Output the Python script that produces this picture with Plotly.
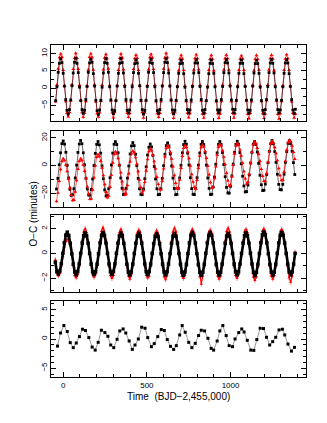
import plotly.graph_objects as go
from plotly.subplots import make_subplots

# ---- panel 1 ----
t1 = [
    -45, -37.5, -30, -22.5, -15, -7.5, 0, 7.5, 15, 22.5, 30, 37.5,
    45, 52.5, 60, 67.5, 75, 82.5, 90, 97.5, 105, 112.5, 120, 127.5,
    135, 142.5, 150, 157.5, 165, 172.5, 180, 187.5, 195, 202.5, 210, 217.5,
    225, 232.5, 240, 247.5, 255, 262.5, 270, 277.5, 285, 292.5, 300, 307.5,
    315, 322.5, 330, 337.5, 345, 352.5, 360, 367.5, 375, 382.5, 390, 397.5,
    405, 412.5, 420, 427.5, 435, 442.5, 450, 457.5, 465, 472.5, 480, 487.5,
    495, 502.5, 510, 517.5, 525, 532.5, 540, 547.5, 555, 562.5, 570, 577.5,
    585, 592.5, 600, 607.5, 615, 622.5, 630, 637.5, 645, 652.5, 660, 667.5,
    675, 682.5, 690, 697.5, 705, 712.5, 720, 727.5, 735, 742.5, 750, 757.5,
    765, 772.5, 780, 787.5, 795, 802.5, 810, 817.5, 825, 832.5, 840, 847.5,
    855, 862.5, 870, 877.5, 885, 892.5, 900, 907.5, 915, 922.5, 930, 937.5,
    945, 952.5, 960, 967.5, 975, 982.5, 990, 997.5, 1005, 1012.5, 1020, 1027.5,
    1035, 1042.5, 1050, 1057.5, 1065, 1072.5, 1080, 1087.5, 1095, 1102.5, 1110, 1117.5,
    1125, 1132.5, 1140, 1147.5, 1155, 1162.5, 1170, 1177.5, 1185, 1192.5, 1200, 1207.5,
    1215, 1222.5, 1230, 1237.5, 1245, 1252.5, 1260, 1267.5, 1275, 1282.5, 1290, 1297.5,
    1305, 1312.5, 1320, 1327.5, 1335, 1342.5, 1350, 1357.5, 1365, 1372.5, 1380, 1387.5,
]
black1 = [
    -3.6, 0.4, 4.6, 7.2, 8.5, 7.4, 4.3, 0.6, -3.3, -6.4, -7.5, -6.2,
    -3.4, 0.7, 4.4, 7.5, 8.7, 7.2, 4.5, 0.3, -3.6, -6.2, -7.3, -6.4,
    -3.3, 0.5, 4.6, 7.3, 8.4, 7.5, 4.2, 0.6, -3.5, -6.5, -7.6, -6.3,
    -3.5, 0.3, 4.4, 7.4, 8.6, 7.2, 4.6, 0.4, -3.4, -6.3, -7.4, -6.5,
    -3.6, 0.6, 4.3, 7.2, 8.6, 7.4, 4.4, 0.5, -3.3, -6.4, -7.2, -6.3,
    -3.4, 0.4, 4.5, 7.1, 8.2, 7.3, 4.3, 0.7, -3.5, -6.2, -7.5, -6.4,
    -3.5, 0.5, 4.6, 7.4, 8.4, 7.2, 4.5, 0.4, -3.6, -6.5, -7.3, -6.2,
    -3.3, 0.6, 4.5, 7.5, 8.6, 7.4, 4.4, 0.6, -3.4, -6.3, -7.4, -6.4,
    -3.5, 0.4, 4.3, 7.1, 8.1, 7.2, 4.2, 0.3, -3.5, -6.2, -7.2, -6.3,
    -3.4, 0.5, 4.4, 7.3, 8.3, 7.3, 4.5, 0.5, -3.3, -6.4, -7.3, -6.2,
    -3.6, 0.3, 4.2, 7.2, 8.2, 7.1, 4.3, 0.4, -3.6, -6.3, -7.1, -6.3,
    -3.3, 0.5, 4.5, 7.4, 8.3, 7.3, 4.4, 0.6, -3.4, -6.1, -7.2, -6.2,
    -3.5, 0.4, 4.3, 7.2, 8.2, 7.2, 4.2, 0.5, -3.5, -6.3, -7.3, -6.4,
    -3.4, 0.6, 4.4, 7.1, 8.1, 7.1, 4.3, 0.3, -3.6, -6.4, -7.4, -6.2,
    -3.3, 0.5, 4.5, 7.3, 8.3, 7.2, 4.4, 0.4, -3.4, -6.2, -7.2, -6.3,
    -3.5, 0.4, 4.3, 7.3, 8.3, 7.3, 4.2, 0.5, -3.3, -6.3, -7.3, -6.1,
]
red1 = [
    -3.9, 0.9, 5.6, 8.9, 9.9, 9.0, 5.2, 0.7, -3.8, -7.2, -8.2, -7.0,
    -3.6, 1.0, 5.5, 8.7, 10.1, 8.7, 5.5, 0.9, -3.5, -7.0, -8.4, -7.2,
    -3.8, 0.7, 5.3, 9.0, 10.0, 8.9, 5.3, 1.0, -3.9, -7.3, -8.3, -7.1,
    -3.7, 0.9, 5.4, 8.8, 9.8, 8.6, 5.6, 0.8, -3.6, -7.1, -8.5, -7.0,
    -3.5, 0.8, 5.2, 8.7, 9.9, 8.8, 5.4, 0.9, -3.8, -7.2, -8.4, -7.3,
    -3.9, 1.0, 5.5, 8.6, 9.6, 8.7, 5.2, 0.7, -3.7, -7.0, -8.6, -7.1,
    -3.6, 0.8, 5.4, 8.9, 9.8, 8.8, 5.5, 0.9, -3.9, -7.3, -8.4, -7.2,
    -3.8, 0.9, 5.6, 8.8, 10.1, 8.9, 5.3, 0.8, -3.6, -7.1, -8.7, -7.0,
    -3.7, 0.7, 5.1, 8.5, 9.5, 8.5, 5.2, 0.6, -3.8, -7.2, -8.5, -7.3,
    -3.9, 0.8, 5.3, 8.6, 9.7, 8.6, 5.4, 0.8, -3.7, -7.4, -8.6, -7.2,
    -3.6, 0.6, 5.2, 8.4, 9.5, 8.4, 5.1, 0.7, -3.9, -7.3, -8.7, -7.4,
    -3.8, 0.9, 5.3, 8.6, 9.6, 8.6, 5.3, 0.9, -3.8, -7.2, -8.6, -7.3,
    -3.7, 0.7, 5.2, 8.5, 9.4, 8.5, 5.2, 0.6, -3.6, -7.4, -8.8, -7.2,
    -3.9, 0.8, 5.1, 8.4, 9.5, 8.4, 5.3, 0.7, -3.8, -7.3, -8.7, -7.4,
    -3.6, 0.9, 5.3, 8.6, 9.6, 8.5, 5.1, 0.8, -3.7, -7.5, -8.9, -7.3,
    -3.8, 0.7, 5.2, 8.5, 9.7, 8.6, 5.2, 0.6, -3.9, -7.2, -8.6, -7.4,
]

# ---- panel 2 ----
t2 = [
    -40, -32, -24, -16, -8, 0, 8, 16, 24, 32, 40, 48, 56,
    64, 72, 80, 88, 96, 104, 112, 120, 128, 136, 144, 152, 160,
    168, 176, 184, 192, 200, 208, 216, 224, 232, 240, 248, 256, 264,
    272, 280, 288, 296, 304, 312, 320, 328, 336, 344, 352, 360, 368,
    376, 384, 392, 400, 408, 416, 424, 432, 440, 448, 456, 464, 472,
    480, 488, 496, 504, 512, 520, 528, 536, 544, 552, 560, 568, 576,
    584, 592, 600, 608, 616, 624, 632, 640, 648, 656, 664, 672, 680,
    688, 696, 704, 712, 720, 728, 736, 744, 752, 760, 768, 776, 784,
    792, 800, 808, 816, 824, 832, 840, 848, 856, 864, 872, 880, 888,
    896, 904, 912, 920, 928, 936, 944, 952, 960, 968, 976, 984, 992,
    1000, 1008, 1016, 1024, 1032, 1040, 1048, 1056, 1064, 1072, 1080, 1088, 1096,
    1104, 1112, 1120, 1128, 1136, 1144, 1152, 1160, 1168, 1176, 1184, 1192, 1200,
    1208, 1216, 1224, 1232, 1240, 1248, 1256, 1264, 1272, 1280, 1288, 1296, 1304,
    1312, 1320, 1328, 1336, 1344, 1352, 1360, 1368, 1376, 1384,
]
black2 = [
    -17.0, -9.3, 0.6, 9.2, 15.9, 17.8, 15.5, 9.6, 0.2, -9.0, -17.2, -21.6, -21.2,
    -16.8, -9.0, 0.3, 9.5, 15.6, 18.2, 15.8, 9.2, 0.5, -9.2, -16.9, -21.3, -21.5,
    -17.4, -9.7, 0.0, 8.8, 15.3, 17.4, 15.0, 9.0, -0.2, -9.5, -17.6, -22.0, -21.7,
    -16.7, -8.8, 0.4, 9.0, 15.4, 17.3, 15.2, 9.2, 0.2, -9.0, -16.5, -21.0, -20.8,
    -16.6, -9.1, -0.3, 8.4, 14.2, 16.6, 14.4, 8.2, -0.1, -9.3, -16.8, -20.9, -21.1,
    -16.9, -9.5, -0.9, 7.6, 13.3, 15.6, 13.5, 7.4, -0.7, -9.7, -16.8, -21.1, -20.9,
    -16.8, -9.2, -0.1, 8.2, 14.4, 16.4, 14.2, 8.4, -0.3, -9.1, -16.6, -21.1, -20.9,
    -16.5, -9.0, 0.2, 9.2, 15.2, 17.6, 15.4, 9.0, 0.4, -8.8, -16.7, -20.8, -21.0,
    -16.7, -8.8, 0.3, 9.1, 15.4, 17.4, 15.2, 9.2, 0.3, -9.0, -16.5, -21.0, -20.8,
    -15.6, -8.3, 0.9, 9.2, 15.4, 17.4, 15.2, 9.4, 0.7, -8.1, -15.8, -19.8, -20.0,
    -15.0, -7.5, 1.1, 9.6, 15.3, 17.6, 15.5, 9.4, 1.3, -7.7, -14.8, -19.1, -18.9,
    -14.1, -6.8, 1.8, 9.6, 15.5, 17.4, 15.3, 9.8, 1.6, -7.0, -13.9, -18.1, -17.9,
    -13.4, -6.5, 2.1, 10.3, 15.8, 18.1, 15.8, 10.1, 2.3, -6.3, -13.6, -17.4, -17.6,
    -13.6, -6.3, 2.3, 10.1, 16.0, 17.9, 15.8, 10.3, 2.1, -6.5,
]
red2 = [
    -26.0, -19.8, -11.3, -2.8, 3.1, 5.0, 3.8, 0.4, -4.3, -9.7, -15.9, -21.4, -25.2,
    -25.0, -19.0, -10.8, -2.5, 3.2, 5.0, 3.8, 0.5, -4.0, -9.3, -15.3, -20.5, -24.3,
    -24.0, -17.6, -8.8, 0.0, 6.1, 8.0, 6.7, 3.2, -1.6, -7.2, -13.6, -19.2, -23.2,
    -22.0, -15.6, -6.8, 2.0, 8.1, 10.0, 8.7, 5.2, 0.4, -5.2, -11.6, -17.2, -21.2,
    -20.5, -14.3, -5.8, 2.8, 8.6, 10.5, 9.3, 5.9, 1.2, -4.2, -10.4, -15.9, -19.7,
    -18.0, -12.0, -3.8, 4.5, 10.2, 12.0, 10.8, 7.5, 3.0, -2.3, -8.3, -13.5, -17.3,
    -17.5, -11.1, -2.3, 6.5, 12.6, 14.5, 13.2, 9.7, 4.9, -0.7, -7.1, -12.7, -16.7,
    -16.5, -10.3, -1.8, 6.8, 12.6, 14.5, 13.3, 9.9, 5.2, -0.2, -6.4, -11.9, -15.7,
    -17.0, -10.6, -1.8, 7.0, 13.1, 15.0, 13.7, 10.2, 5.4, -0.2, -6.6, -12.2, -16.2,
    -15.5, -9.3, -0.8, 7.8, 13.6, 15.5, 14.3, 10.9, 6.2, 0.8, -5.4, -10.9, -14.7,
    -14.0, -8.0, 0.3, 8.5, 14.2, 16.0, 14.8, 11.5, 7.0, 1.8, -4.3, -9.5, -13.3,
    -12.0, -6.2, 1.8, 9.8, 15.3, 17.0, 15.8, 12.7, 8.3, 3.2, -2.6, -7.7, -11.3,
    -11.5, -5.7, 2.3, 10.3, 15.8, 17.5, 16.3, 13.2, 8.8, 3.7, -2.1, -7.2, -10.8,
    -10.5, -4.7, 3.3, 11.3, 16.8, 18.5, 17.3, 14.2, 9.8, 4.7,
]

# ---- panel 3 ----
t3 = [
    -47,
    -38, -29.1, -20.2, -11.3, -2.4, 6.5, 15.4, 24.3, 33.2, 42.1, 51.0, 59.9,
    68.8, 77.7, 86.6, 95.5, 104.4, 113.3, 122.2, 131.1, 140.0, 148.9, 157.8, 166.7,
    175.6, 184.5, 193.4, 202.3, 211.2, 220.1, 229.0, 237.9, 246.8, 255.7, 264.6, 273.5,
    282.4, 291.3, 300.2, 309.1, 318.0, 326.9, 335.8, 344.7, 353.6, 362.5, 371.4, 380.3,
    389.2, 398.1, 407.0, 415.9, 424.8, 433.7, 442.6, 451.5, 460.4, 469.3, 478.2, 487.1,
    496.0, 504.9, 513.8, 522.7, 531.6, 540.5, 549.4, 558.3, 567.2, 576.1, 585.0, 593.9,
    602.8, 611.7, 620.6, 629.5, 638.4, 647.3, 656.2, 665.1, 674.0, 682.9, 691.8, 700.7,
    709.6, 718.5, 727.4, 736.3, 745.2, 754.1, 763.0, 771.9, 780.8, 789.7, 798.6, 807.5,
    816.4, 825.3, 834.2, 843.1, 852.0, 860.9, 869.8, 878.7, 887.6, 896.5, 905.4, 914.3,
    923.2, 932.1, 941.0, 949.9, 958.8, 967.7, 976.6, 985.5, 994.4, 1003.3, 1012.2, 1021.1,
    1030.0, 1038.9, 1047.8, 1056.7, 1065.6, 1074.5, 1083.4, 1092.3, 1101.2, 1110.1, 1119.0, 1127.9,
    1136.8, 1145.7, 1154.6, 1163.5, 1172.4, 1181.3, 1190.2, 1199.1, 1208.0, 1216.9, 1225.8, 1234.7,
    1243.6, 1252.5, 1261.4, 1270.3, 1279.2, 1288.1, 1297.0, 1305.9, 1314.8, 1323.7, 1332.6, 1341.5,
    1350.4, 1359.3, 1368.2, 1377.1, 1386.0,
]
black3 = [
    -0.7,
    -1.45, -1.65, -1.42, -0.82, 0.02, 0.86, 1.48, 1.72, 1.46, 0.83, -0.02, -0.86,
    -1.49, -1.72, -1.46, -0.84, 0.01, 0.84, 1.43, 1.66, 1.42, 0.82, 0.0, -0.85,
    -1.48, -1.70, -1.47, -0.86, -0.02, 0.85, 1.47, 1.70, 1.45, 0.84, 0.01, -0.84,
    -1.46, -1.69, -1.45, -0.83, 0.02, 0.83, 1.42, 1.65, 1.43, 0.81, -0.01, -0.86,
    -1.50, -1.74, -1.49, -0.85, 0.0, 0.82, 1.42, 1.64, 1.41, 0.83, 0.02, -0.83,
    -1.47, -1.70, -1.46, -0.84, 0.01, 0.80, 1.38, 1.58, 1.37, 0.79, -0.02, -0.86,
    -1.49, -1.73, -1.48, -0.85, -0.01, 0.82, 1.40, 1.62, 1.40, 0.82, 0.0, -0.85,
    -1.51, -1.76, -1.50, -0.87, 0.0, 0.86, 1.47, 1.70, 1.46, 0.84, -0.01, -0.87,
    -1.52, -1.77, -1.51, -0.86, 0.02, 0.85, 1.46, 1.69, 1.47, 0.85, 0.01, -0.86,
    -1.50, -1.74, -1.50, -0.85, -0.01, 0.82, 1.40, 1.62, 1.41, 0.81, 0.0, -0.85,
    -1.48, -1.72, -1.48, -0.84, 0.01, 0.84, 1.43, 1.66, 1.44, 0.83, 0.02, -0.84,
    -1.52, -1.78, -1.52, -0.87, 0.0, 0.87, 1.50, 1.74, 1.51, 0.86, -0.01, -0.87,
    -1.50, -1.75, -1.50, -0.86, 0.01, 0.85, 1.47, 1.70, 1.47, 0.85, 0.0, -0.86,
    -1.49, -1.73, -1.49, -0.85, 0.01,
]
red3 = [
    -0.5,
    -1.55, -1.8, -1.6, -1.0, -0.2, 0.55, 1.0, 1.15, 1.05, 0.65, 0.05, -0.95,
    -1.75, -1.95, -1.7, -1.0, 0.1, 1.05, 1.75, 2.0, 1.7, 0.95, -0.05, -0.95,
    -1.7, -1.9, -1.65, -0.95, 0.05, 1.0, 1.8, 2.1, 1.75, 1.05, 0.1, -1.0,
    -1.75, -2.0, -1.75, -1.05, -0.05, 0.95, 1.7, 1.95, 1.65, 0.9, 0.0, -0.95,
    -1.8, -2.05, -1.7, -0.95, 0.05, 0.95, 1.65, 1.9, 1.7, 0.95, 0.05, -1.0,
    -1.75, -1.95, -1.8, -1.0, 0.0, 0.9, 1.6, 1.85, 1.6, 0.9, -0.05, -1.05,
    -1.85, -2.1, -1.75, -0.95, 0.05, 1.0, 1.75, 2.05, 1.75, 1.0, 0.05, -1.0,
    -1.8, -2.0, -1.75, -1.0, -0.05, 0.95, 1.7, 1.95, 1.7, 0.95, 0.0, -1.0,
    -1.85, -2.45, -1.8, -1.05, 0.0, 0.95, 1.7, 1.9, 1.65, 0.9, 0.05, -1.0,
    -1.8, -2.05, -1.8, -1.0, 0.05, 1.0, 1.8, 2.05, 1.75, 1.0, 0.0, -1.05,
    -1.75, -2.0, -1.7, -0.95, 0.0, 0.95, 1.75, 1.95, 1.7, 0.95, 0.05, -0.95,
    -1.9, -2.15, -1.85, -1.05, -0.05, 1.0, 1.8, 2.0, 1.75, 1.0, 0.0, -1.0,
    -1.8, -2.05, -1.75, -1.0, 0.05, 0.95, 1.75, 1.95, 1.7, 0.95, 0.0, -1.05,
    -1.95, -2.3, -1.8, -0.95, 0.1,
]

# ---- panel 4 ----
t4 = [
    -34, -16, 4, 24, 42, 60, 78, 97, 115, 133, 153, 173, 191, 209, 228, 249,
    267, 284, 302, 322, 338, 358, 374, 394, 413, 429, 449, 469, 489, 505, 527,
    544, 565, 586, 604, 622, 641, 660, 676, 696, 711, 729, 750, 769, 789, 809,
    825, 845, 865, 884, 899, 920, 936, 954, 974, 992, 1012, 1027, 1049, 1067,
    1081, 1100, 1121, 1139, 1157, 1177, 1197, 1215, 1234, 1252, 1270, 1290,
    1310, 1324, 1343, 1364, 1382,
]
resid4 = [
    -1.21, 1.03, 2.31, 1.28, -0.62, -1.48, -0.69, 0.41, 1.67, 1.45, 0.24, -1.38,
    -1.90, -0.57, 1.50, 1.10, 0.46, -1.03, -1.48, -0.05, 1.38, 1.72, 1.03, -0.34,
    -1.78, -1.03, 0.0, 2.02, 1.84, 0.24, -1.31, -0.79, 0.41, 1.62, 1.45, -0.10,
    -1.26, -1.78, -1.14, 0.69, 2.3, 1.16, -0.57, -1.48, -0.74, 0.59, 1.50, 1.38,
    0.12, -1.60, -1.90, -0.34, 1.38, 2.31, 0.59, -1.14, -1.31, 0.0, 1.10, 1.72,
    1.2, -0.22, -1.90, -1.95, -0.10, 1.84, 1.79, 0.29, -1.03, -0.45, 0.29, 1.55,
    1.67, 0.69, -0.86, -2.07, -1.43,
]

fig = make_subplots(rows=4, cols=1, shared_xaxes=True)


def black_trace(t, y, width=0.6, size=2.8):
    return go.Scatter(
        x=t, y=y, mode="lines+markers",
        line=dict(color="black", width=width),
        marker=dict(color="black", size=size, symbol="square"),
    )


def red_trace(t, y, err, width=0.6, size=3.5):
    return go.Scatter(
        x=t, y=y, mode="lines+markers",
        line=dict(color="red", width=width),
        marker=dict(color="red", size=size, symbol="triangle-up"),
        error_y=dict(type="constant", value=err, color="red", thickness=0.6, width=0),
    )


# red under black in the top panel, black under red in the second
fig.add_trace(red_trace(t1, red1, 0.5), row=1, col=1)
fig.add_trace(black_trace(t1, black1), row=1, col=1)
fig.add_trace(black_trace(t2, black2), row=2, col=1)
fig.add_trace(red_trace(t2, red2, 1.2), row=2, col=1)
fig.add_trace(red_trace(t3, red3, 0.2, width=1.2, size=3), row=3, col=1)
fig.add_trace(black_trace(t3, black3, width=2.6, size=3.5), row=3, col=1)
fig.add_trace(
    go.Scatter(
        x=t4, y=resid4, mode="lines+markers",
        line=dict(color="#555555", width=0.6),
        marker=dict(color="black", size=3, symbol="square"),
    ),
    row=4, col=1,
)

tick_font = dict(family="Liberation Sans, Arial, sans-serif", size=8, color="black")
axis_style = dict(
    showline=True, linecolor="black", linewidth=1.2, mirror="allticks",
    ticks="inside", ticklen=5, tickwidth=1, tickcolor="black",
    showgrid=False, zeroline=False, tickfont=tick_font, automargin=False,
)

x_dom = [43 / 327, 298 / 327]
y_doms = [
    [1 - 113 / 423, 1 - 37 / 423],
    [1 - 199 / 423, 1 - 123 / 423],
    [1 - 284 / 423, 1 - 207 / 423],
    [1 - 369 / 423, 1 - 293 / 423],
]
y_ranges = [[-9.5, 12.5], [-30, 25], [-3.1, 3.1], [-6.5, 6.5]]
y_major = [5, 20, 2, 5]
y_minor = [2.5, 10, 1, 1]

for i in range(4):
    fig.update_xaxes(
        axis_style, row=i + 1, col=1, domain=x_dom, range=[-73, 1451],
        tick0=0, dtick=500, showticklabels=(i == 3),
        minor=dict(ticks="inside", ticklen=2.5, tickcolor="black", dtick=100, tick0=0, showgrid=False),
    )
    fig.update_yaxes(
        axis_style, row=i + 1, col=1, domain=y_doms[i], range=y_ranges[i],
        tick0=0, dtick=y_major[i], tickangle=-90,
        minor=dict(ticks="inside", ticklen=2.5, tickcolor="black", dtick=y_minor[i], tick0=0, showgrid=False),
    )

fig.add_annotation(
    text="Time  (BJD\u22122,455,000)", xref="paper", yref="paper",
    x=0.52, y=1 - 396 / 423, showarrow=False,
    font=dict(family="Liberation Sans, Arial, sans-serif", size=10, color="black"),
)
fig.add_annotation(
    text="O\u2212C (minutes)", xref="paper", yref="paper",
    x=17 / 327, y=1 - 206 / 423, showarrow=False, textangle=-90,
    font=dict(family="Liberation Sans, Arial, sans-serif", size=10, color="black"),
)

fig.update_layout(
    width=327, height=423, template="none",
    margin=dict(l=0, r=0, t=0, b=0),
    paper_bgcolor="white", plot_bgcolor="white",
    showlegend=False, hovermode=False,
)

fig.write_html("out.html")
